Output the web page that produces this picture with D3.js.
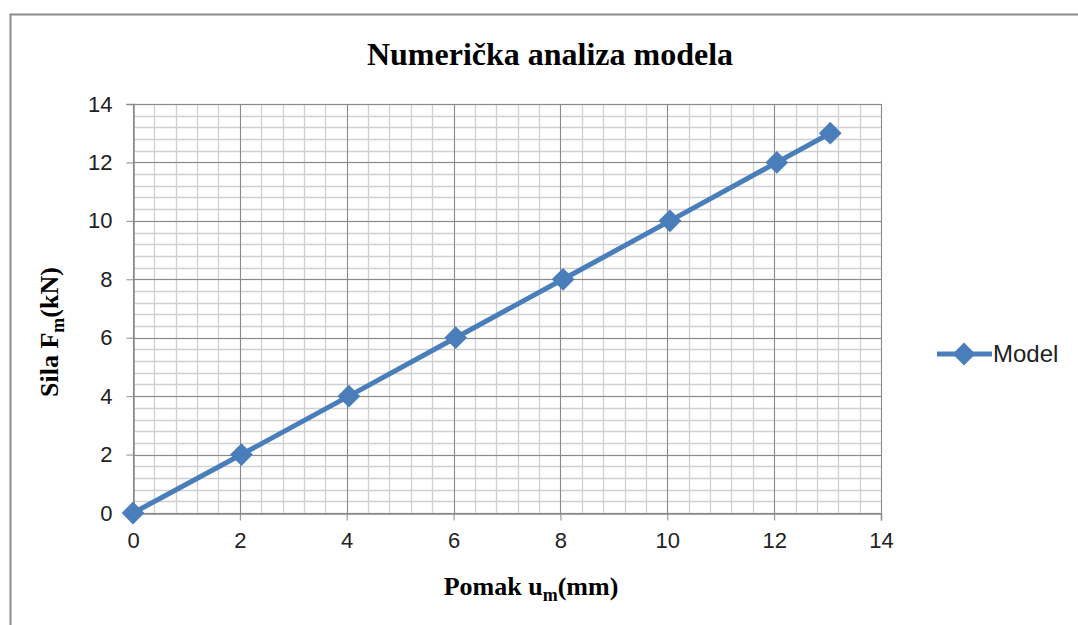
<!DOCTYPE html>
<html>
<head>
<meta charset="utf-8">
<script src="https://cdn.jsdelivr.net/npm/d3@7"></script>
<style>
  body { margin: 0; background: #fff; }
  svg { display: block; }
</style>
</head>
<body>
<svg id="chart"></svg>
<script>
// data
const pomak = [0, 2.03, 4.04, 6.04, 8.05, 10.05, 12.05, 13.05];
const sila = [0, 2, 4, 6, 8, 10, 12, 13];
const xTicks = [0, 2, 4, 6, 8, 10, 12, 14];
const yTicks = [0, 2, 4, 6, 8, 10, 12, 14];
const seriesName = "Model";

const width = 1078, height = 625;
const plot = { left: 133, right: 881, top: 104, bottom: 513 };
const blue = "#4a7ebb";

const svg = d3.select("#chart").attr("width", width).attr("height", height);

// outer chart frame (open on right and bottom, cropped)
svg.append("path")
    .attr("d", `M10.5,${height} V14.5 H${width}`)
    .attr("fill", "none")
    .attr("stroke", "#8c8c8c")
    .attr("stroke-width", 2);

const x = d3.scaleLinear().domain([0, 14]).range([plot.left, plot.right]);
const y = d3.scaleLinear().domain([0, 14]).range([plot.bottom, plot.top]);

// minor grid
const minor = d3.range(0, 14.001, 0.4);
const grid = svg.append("g");
grid.selectAll(".vmin").data(minor).join("line")
    .attr("x1", d => Math.round(x(d)) + 0.5).attr("x2", d => Math.round(x(d)) + 0.5)
    .attr("y1", plot.top).attr("y2", plot.bottom)
    .attr("stroke", "#d0d0d0").attr("stroke-width", 1.3);
grid.selectAll(".hmin").data(minor).join("line")
    .attr("y1", d => Math.round(y(d)) + 0.5).attr("y2", d => Math.round(y(d)) + 0.5)
    .attr("x1", plot.left).attr("x2", plot.right)
    .attr("stroke", "#d0d0d0").attr("stroke-width", 1.3);

// major grid
grid.selectAll(".vmaj").data(xTicks).join("line")
    .attr("x1", d => Math.round(x(d)) + 0.5).attr("x2", d => Math.round(x(d)) + 0.5)
    .attr("y1", plot.top).attr("y2", plot.bottom)
    .attr("stroke", "#8a8a8a").attr("stroke-width", 1);
grid.selectAll(".hmaj").data(yTicks).join("line")
    .attr("y1", d => Math.round(y(d)) + 0.5).attr("y2", d => Math.round(y(d)) + 0.5)
    .attr("x1", plot.left).attr("x2", plot.right)
    .attr("stroke", "#8a8a8a").attr("stroke-width", 1);

// axes
const xAxis = svg.append("g")
    .attr("transform", `translate(0,${plot.bottom + 0.5})`)
    .call(d3.axisBottom(x).tickValues(xTicks).tickSize(7).tickPadding(12));
const yAxis = svg.append("g")
    .attr("transform", `translate(${plot.left + 0.5},0)`)
    .call(d3.axisLeft(y).tickValues(yTicks).tickSize(7).tickPadding(14));
[xAxis, yAxis].forEach(a => {
    a.select(".domain").attr("stroke", "#8a8a8a").attr("stroke-width", 1.5);
    a.selectAll(".tick line").attr("stroke", "#8a8a8a");
    a.selectAll("text")
        .attr("fill", "#222")
        .style("font-family", "'Liberation Sans', Arial, sans-serif")
        .style("font-size", "22px");
});

// series line + diamond markers
const line = d3.line().x((d, i) => x(pomak[i])).y(d => y(d));
svg.append("path")
    .datum(sila)
    .attr("d", line)
    .attr("fill", "none")
    .attr("stroke", blue)
    .attr("stroke-width", 5);

const diamond = d3.symbol().type(d3.symbolDiamond2).size(330);
svg.append("g").selectAll("path")
    .data(sila)
    .join("path")
    .attr("transform", (d, i) => `translate(${x(pomak[i])},${y(d)})`)
    .attr("d", diamond)
    .attr("fill", blue);

// title
svg.append("text")
    .attr("x", 550).attr("y", 65)
    .attr("text-anchor", "middle")
    .style("font-family", "'Liberation Serif', 'Times New Roman', serif")
    .style("font-weight", "bold")
    .style("font-size", "32px")
    .text("Numerička analiza modela");

// x axis title
const xt = svg.append("text")
    .attr("x", 531).attr("y", 595)
    .attr("text-anchor", "middle")
    .style("font-family", "'Liberation Serif', 'Times New Roman', serif")
    .style("font-weight", "bold")
    .style("font-size", "26px");
xt.append("tspan").text("Pomak u");
xt.append("tspan").attr("dy", 6).style("font-size", "18px").text("m");
xt.append("tspan").attr("dy", -6).text("(mm)");

// y axis title
const yt = svg.append("text")
    .attr("transform", "translate(58,332) rotate(-90)")
    .attr("text-anchor", "middle")
    .style("font-family", "'Liberation Serif', 'Times New Roman', serif")
    .style("font-weight", "bold")
    .style("font-size", "26px");
yt.append("tspan").text("Sila  F");
yt.append("tspan").attr("dy", 6).style("font-size", "18px").text("m");
yt.append("tspan").attr("dy", -6).text("(kN)");

// legend
const lg = svg.append("g").attr("transform", "translate(937,354)");
lg.append("line").attr("x1", 0).attr("x2", 55).attr("stroke", blue).attr("stroke-width", 5);
lg.append("path").attr("transform", "translate(27,0)").attr("d", diamond).attr("fill", blue);
lg.append("text")
    .attr("x", 56).attr("y", 8)
    .style("font-family", "'Liberation Sans', Arial, sans-serif")
    .style("font-size", "24px")
    .attr("fill", "#222")
    .text(seriesName);
</script>
</body>
</html>
